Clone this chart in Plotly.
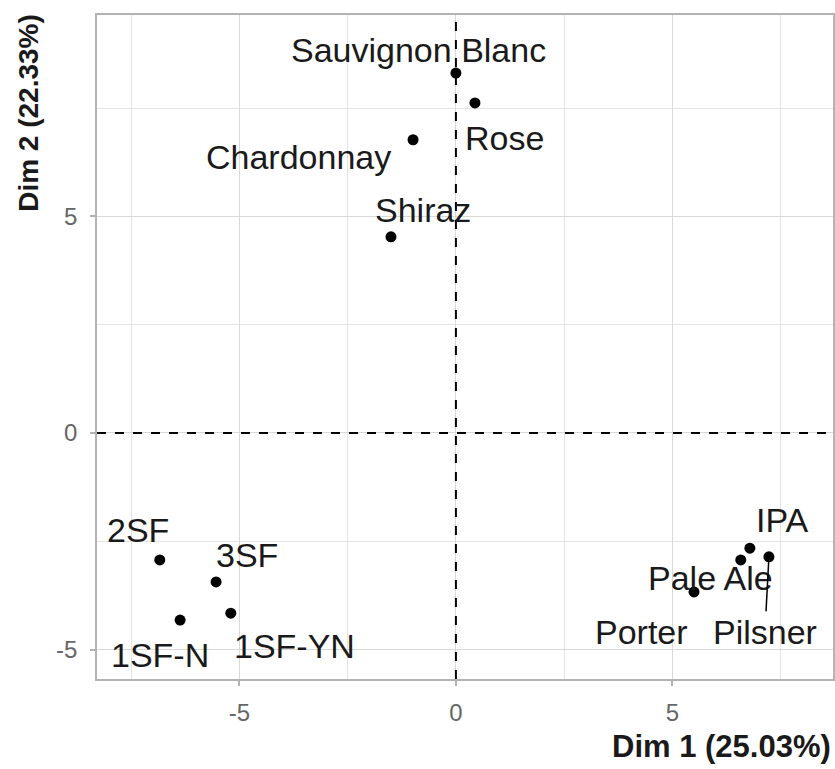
import plotly.graph_objects as go

# PCA individuals (Dim 1 / Dim 2 coordinates)
names = ["Sauvignon Blanc", "Rose", "Chardonnay", "Shiraz",
         "2SF", "3SF", "1SF-N", "1SF-YN",
         "IPA", "Pale Ale", "Pilsner", "Porter"]
dim1 = [0.00, 0.44, -0.99, -1.50, -6.84, -5.54, -6.37, -5.20, 6.79, 6.58, 7.23, 5.50]
dim2 = [8.31, 7.62, 6.77, 4.53, -2.93, -3.44, -4.32, -4.16, -2.66, -2.93, -2.86, -3.67]

ticks = [-5, 0, 5]
tick_text = ["-5", "0", "5"]
x_title = "Dim 1 (25.03%)"
y_title = "Dim 2 (22.33%)"

# repelled label offsets in pixels (ax, ay) and whether a segment is drawn
label_off = {
    "Sauvignon Blanc": (-37, -23, False),
    "Rose": (30, 35, False),
    "Chardonnay": (-115, 17, False),
    "Shiraz": (32, -27, False),
    "2SF": (-22, -30, False),
    "3SF": (31, -27, False),
    "1SF-N": (-20, 35, False),
    "1SF-YN": (64, 33, False),
    "IPA": (33, -28, False),
    "Pale Ale": (-30, 18, False),
    "Pilsner": (-4, 75, True),
    "Porter": (-53, 40, False),
}

fig = go.Figure()
fig.add_trace(go.Scatter(x=dim1, y=dim2, mode="markers",
                         marker=dict(color="black", size=11),
                         hoverinfo="text", text=names, showlegend=False))

for n, x, y in zip(names, dim1, dim2):
    ax, ay, seg = label_off[n]
    fig.add_annotation(x=x, y=y, xref="x", yref="y", text=n,
                       showarrow=True, ax=ax, ay=ay, arrowhead=0,
                       arrowwidth=1.5,
                       arrowcolor="black" if seg else "rgba(0,0,0,0)",
                       font=dict(family="Liberation Sans, Arial", size=34, color="#1a1a1a"))

fig.add_vline(x=0, line=dict(color="black", width=2, dash="dash"))
fig.add_hline(y=0, line=dict(color="black", width=2, dash="dash"))

axis_common = dict(showgrid=True, gridcolor="#d9d9d9", gridwidth=1, automargin=False,
                   zeroline=False, showline=True, linecolor="#b3b3b3", linewidth=1.5,
                   mirror=True, ticks="outside", ticklen=5, tickcolor="#b3b3b3",
                   tickwidth=1.5, tickmode="array", tickvals=ticks, ticktext=tick_text,
                   tickfont=dict(family="Liberation Sans, Arial", size=24, color="#666666"),
                   minor=dict(tickmode="array", tickvals=[-7.5, -2.5, 2.5, 7.5],
                              showgrid=True, gridcolor="#e3e3e3", gridwidth=1, ticks=""))

fig.update_xaxes(range=[-8.29, 8.71], ticklabelstandoff=6, **axis_common)
fig.update_yaxes(range=[-5.68, 9.65], ticklabelstandoff=8, **axis_common)

fig.add_annotation(text="<b>" + x_title + "</b>", xref="paper", yref="paper",
                   x=1.0, y=-0.102, xanchor="right", yanchor="middle", showarrow=False,
                   font=dict(family="Liberation Sans, Arial", size=31, color="#1a1a1a"))
fig.add_annotation(text="<b>" + y_title + "</b>", xref="paper", yref="paper",
                   x=-0.093, y=0.852, xanchor="center", yanchor="middle", showarrow=False,
                   textangle=-90,
                   font=dict(family="Liberation Sans, Arial", size=28, color="#1a1a1a"))

fig.update_layout(width=835, height=769, plot_bgcolor="white", paper_bgcolor="white",
                  margin=dict(l=97, r=2, t=15, b=90))

fig.write_html("out.html", config={"displayModeBar": False},
               post_script="document.body.style.margin='0';")
